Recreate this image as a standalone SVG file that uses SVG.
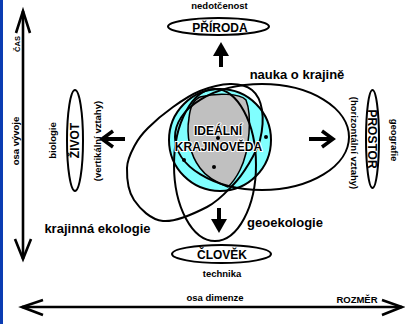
<svg xmlns="http://www.w3.org/2000/svg" width="405" height="324" viewBox="0 0 405 324">
<style>
text{font-family:"Liberation Sans",Arial,sans-serif;fill:#000;font-weight:bold}
.node{fill:#fff;stroke:#000;stroke-width:2}
.big{fill:none;stroke:#000;stroke-width:2}
.ax{fill:none;stroke:#000;stroke-width:2.6}
.sm{font-size:9.5px}
.lbl{font-size:13px}
.nm{font-size:12px}
.halo{stroke:#fff;stroke-width:2;paint-order:stroke;stroke-linejoin:round}
</style>
<rect x="0" y="0" width="405" height="324" fill="#fff"/>
<rect x="0" y="0" width="3" height="324" fill="#0b3cb2"/>

<g id="axes">
  <line class="ax" x1="23" y1="11" x2="23" y2="259"/>
  <polyline class="ax" points="16,33 23,11 30,33"/>
  <polyline class="ax" points="15,239 23,259 31,239"/>
  <line class="ax" x1="22" y1="307" x2="402" y2="307"/>
  <polyline class="ax" points="43,300 22,307 43,315"/>
  <polyline class="ax" points="382,300 402,307 382,315"/>
  <text class="sm" font-size="7.5" transform="translate(19.5,44) rotate(-90)" text-anchor="middle" style="font-size:7.5px">ČAS</text>
  <text class="sm" transform="translate(18.5,141) rotate(-90)" text-anchor="middle">osa vývoje</text>
  <text class="sm" x="215" y="301" text-anchor="middle">osa dimenze</text>
  <text class="sm" x="357" y="303" text-anchor="middle">ROZMĚR</text>
</g>

<g id="krajinoveda">
  <circle cx="220" cy="140" r="51" fill="#80ffff" stroke="none"/>
  <path d="M200,97 C215,93 240,93 246,100 C252,115 250,150 240,170 C236,178 232,183 228,187 C215,182 205,175 200,168 C190,155 186,135 189,118 C190,108 193,100 200,97 Z" fill="#c0c0c0" stroke="#000" stroke-width="1.5"/>
  <circle cx="220" cy="140" r="51" class="big"/>
</g>

<g id="nauka-o-krajine">
  <ellipse class="big" cx="262" cy="137" rx="87" ry="53"/>
  <text class="lbl" x="297" y="78.5" text-anchor="middle">nauka o krajině</text>
</g>

<g id="krajinna-ekologie">
  <path class="big" d="M163,221 C150.8,219.8 140,208.8 134,200 C128,191.2 126.8,177.2 127,168 C127.2,158.8 131.5,151.7 135,145 C138.5,138.3 141.7,134.3 148,128 C154.3,121.7 164.3,113.2 173,107 C181.7,100.8 190.5,94.8 200,91 C209.5,87.2 221.3,84.2 230,84 C238.7,83.8 246.7,85.7 252,90 C257.3,94.3 260.7,101.7 262,110 C263.3,118.3 262.3,130.8 260,140 C257.7,149.2 252.5,157.5 248,165 C243.5,172.5 239.8,178 233,185 C226.2,192 218.7,201 207,207 C195.3,213 175.2,222.2 163,221 Z"/>
  <text class="lbl" x="97.5" y="233" text-anchor="middle">krajinná ekologie</text>
</g>

<g id="geoekologie">
  <ellipse class="big" cx="215" cy="165" rx="41" ry="76"/>
  <text class="lbl" x="285" y="227" text-anchor="middle">geoekologie</text>
</g>

<g id="ideal-label">
  <circle cx="218" cy="138" r="2"/>
  <circle cx="266" cy="137" r="2"/>
  <circle cx="184" cy="160" r="2"/>
  <circle cx="214" cy="167" r="2"/>
  <text class="nm halo" x="218" y="135" text-anchor="middle">IDEÁLNÍ</text>
  <text class="nm halo" x="218.5" y="151" text-anchor="middle">KRAJINOVĚDA</text>
</g>

<g id="priroda">
  <ellipse class="node" cx="218.5" cy="26.5" rx="50.5" ry="8.5"/>
  <text class="nm" x="220" y="32" text-anchor="middle">PŘÍRODA</text>
  <text class="sm" x="219.5" y="9" text-anchor="middle">nedotčenost</text>
</g>

<g id="clovek">
  <ellipse class="node" cx="221.5" cy="254" rx="49.5" ry="9"/>
  <text class="nm" x="222" y="259" text-anchor="middle">ČLOVĚK</text>
  <text class="sm" x="222" y="277" text-anchor="middle">technika</text>
</g>

<g id="zivot">
  <ellipse class="node" cx="75" cy="140.5" rx="8" ry="50.5"/>
  <text class="nm" transform="translate(79.3,140.5) rotate(-90)" text-anchor="middle">ŽIVOT</text>
  <text class="sm" transform="translate(56,140.5) rotate(-90)" text-anchor="middle">biologie</text>
  <text class="sm" transform="translate(100.5,141) rotate(-90)" text-anchor="middle">(vertikální vztahy)</text>
</g>

<g id="prostor">
  <ellipse class="node" cx="372.5" cy="139" rx="6.5" ry="49"/>
  <text class="nm" transform="translate(368.2,139) rotate(90)" text-anchor="middle">PROSTOR</text>
  <text class="sm" transform="translate(350.5,143) rotate(90)" text-anchor="middle">(horizontální vztahy)</text>
  <text class="sm" transform="translate(391,140) rotate(90)" text-anchor="middle">geografie</text>
</g>

<g id="connectors">
  <polygon points="221,42 229,56 213,56"/>
  <rect x="219" y="54" width="4" height="13"/>
  <polygon points="219,233 227,219 211,219"/>
  <rect x="217" y="208" width="4" height="13"/>
  <polyline points="113,131 102,139 113,147" fill="none" stroke="#000" stroke-width="3.5"/>
  <line x1="103" y1="139" x2="125" y2="139" stroke="#000" stroke-width="4"/>
  <polyline points="322,131 333,139 322,147" fill="none" stroke="#000" stroke-width="3.5"/>
  <line x1="309" y1="139" x2="332" y2="139" stroke="#000" stroke-width="4"/>
</g>
</svg>
